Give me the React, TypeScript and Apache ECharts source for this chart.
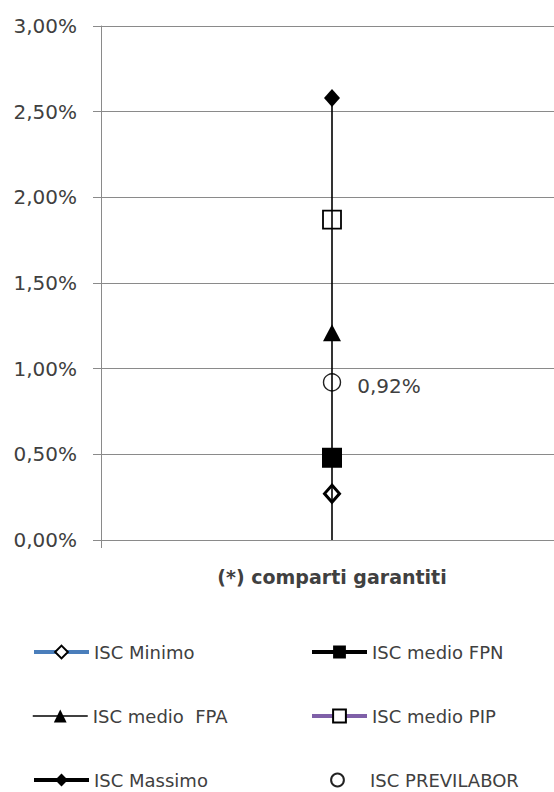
import React, { useEffect, useRef } from "react";
import * as echarts from "echarts";

const categories = ["(*) comparti garantiti"];
const iscMinimo = [0.27];
const iscMedioFPN = [0.48];
const iscMedioFPA = [1.21];
const iscMedioPIP = [1.87];
const iscMassimo = [2.58];
const iscPrevilabor = [0.92];
const yTicks = { min: 0, max: 3, interval: 0.5 };

const FONT = "DejaVu Sans";
const TXT = "#404040";
const GRID = "#8a8a8a";

const fmt = (v: number) => v.toFixed(2).replace(".", ",") + "%";

export default function App() {
  const ref = useRef<HTMLDivElement>(null);
  useEffect(() => {
    const chart = echarts.init(ref.current!, null, { renderer: "svg" });
    const legendBase = {
      itemWidth: 55,
      itemHeight: 16,
      padding: 0,
      textStyle: { fontFamily: FONT, fontSize: 18, lineHeight: 20, color: TXT },
      selectedMode: false,
    };
    const legendPos: [string, number, number, any][] = [
      ["ISC Minimo", 32, 642, { color: "#4a7ebb", width: 4 }],
      ["ISC medio FPN", 310, 642, { color: "#000", width: 4 }],
      ["ISC medio  FPA", 32, 706, { color: "#000", width: 1.5 }],
      ["ISC medio PIP", 310, 706, { color: "#7f60a8", width: 4 }],
      ["ISC Massimo", 32, 770, { color: "#000", width: 4 }],
      ["ISC PREVILABOR", 310, 770, { color: "#fff", width: 0, opacity: 0 }],
    ];
    chart.setOption({
      animation: false,
      grid: { left: 101, top: 26, width: 462, height: 514, outerBoundsMode: "none", containLabel: false },
      xAxis: {
        type: "category",
        data: categories,
        axisLine: { lineStyle: { color: GRID, width: 1 } },
        axisTick: { show: true, length: 8, lineStyle: { color: GRID } },
        axisLabel: {
          margin: 27,
          fontFamily: FONT,
          fontSize: 19,
          fontWeight: "bold",
          color: TXT,
        },
      },
      yAxis: {
        type: "value",
        min: yTicks.min,
        max: yTicks.max,
        interval: yTicks.interval,
        axisLine: { show: true, lineStyle: { color: GRID, width: 1 } },
        axisTick: { show: true, length: 8, lineStyle: { color: GRID } },
        splitLine: { lineStyle: { color: GRID, width: 1 } },
        axisLabel: {
          margin: 24,
          fontFamily: FONT,
          fontSize: 20,
          color: TXT,
          formatter: fmt,
        },
      },
      legend: legendPos.map(([name, left, top, ls]) => ({
        ...legendBase,
        left,
        top,
        data: [name],
        lineStyle: ls,
      })),
      series: [
        {
          name: "range",
          type: "line",
          data: [],
          z: 1,
          markLine: {
            silent: true,
            symbol: ["none", "none"],
            label: { show: false },
            lineStyle: { color: "#000", width: 1.6, type: "solid" },
            data: [[{ coord: [0, 0] }, { coord: [0, iscMassimo[0]] }]],
          },
        },
        {
          name: "ISC Minimo",
          type: "line",
          data: iscMinimo,
          z: 3,
          symbol: "diamond",
          symbolSize: [15, 17],
          itemStyle: { color: "#fff", borderColor: "#000", borderWidth: 3 },
          lineStyle: { color: "#4a7ebb", width: 4 },
        },
        {
          name: "ISC medio FPN",
          type: "line",
          data: iscMedioFPN,
          z: 3,
          symbol: "rect",
          symbolSize: 20,
          itemStyle: { color: "#000" },
          lineStyle: { color: "#000", width: 4 },
        },
        {
          name: "ISC medio  FPA",
          type: "line",
          data: iscMedioFPA,
          z: 3,
          symbol: "triangle",
          symbolSize: [18, 17],
          itemStyle: { color: "#000" },
          lineStyle: { color: "#000", width: 1.5 },
        },
        {
          name: "ISC medio PIP",
          type: "line",
          data: iscMedioPIP,
          z: 3,
          symbol: "rect",
          symbolSize: 18,
          itemStyle: { color: "#fff", borderColor: "#000", borderWidth: 1.8 },
          lineStyle: { color: "#7f60a8", width: 4 },
        },
        {
          name: "ISC Massimo",
          type: "line",
          data: iscMassimo,
          z: 3,
          symbol: "diamond",
          symbolSize: [16, 18],
          itemStyle: { color: "#000" },
          lineStyle: { color: "#000", width: 4 },
        },
        {
          name: "ISC PREVILABOR",
          type: "line",
          data: iscPrevilabor,
          z: 3,
          symbol: "circle",
          symbolSize: 17,
          itemStyle: { color: "#fff", borderColor: "#222", borderWidth: 1.4 },
          lineStyle: { opacity: 0, width: 0 },
          label: {
            show: true,
            position: "right",
            distance: 16,
            offset: [0, 4],
            fontFamily: FONT,
            fontSize: 20,
            color: TXT,
            formatter: (p: any) => fmt(p.value),
          },
        },
      ],
    });
    return () => chart.dispose();
  }, []);
  return (
    <div
      ref={ref}
      style={{ position: "absolute", left: 0, top: 0, width: 554, height: 792, background: "#fff" }}
    />
  );
}
